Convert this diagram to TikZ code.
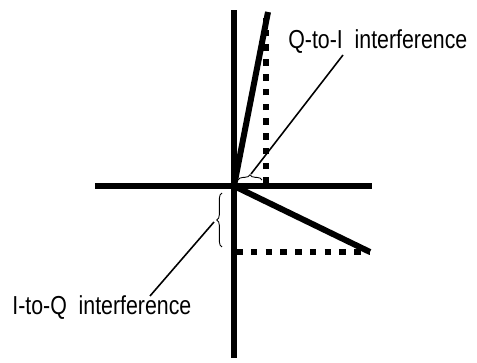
\documentclass[tikz,border=0pt]{standalone}
\usepackage{fontspec}
\newfontfamily\labelfont[FakeStretch=0.82]{Liberation Sans}
\usepackage{tikz}
\usetikzlibrary{decorations.pathreplacing}

\begin{document}
\begin{tikzpicture}[x=0.2mm, y=0.2mm,
  axis/.style={line width=3.2pt},
  vec/.style={line width=3.4pt},
  proj/.style={line width=3pt, dash pattern=on 3.8pt off 4.6pt},
  lead/.style={line width=0.9pt},
  brc/.style={line width=0.5pt, decorate, decoration={brace, amplitude=3pt}},
  lbl/.style={font=\labelfont\fontsize{14.8}{17}\selectfont, inner sep=0pt, anchor=west}]
  \useasboundingbox (-234,-177) rectangle (243,186);
  % axes
  \coordinate (O) at (0,0);
  \coordinate (Qtop) at (0,176);
  \coordinate (Qbot) at (0,-172);
  \coordinate (Ileft) at (-139,0);
  \coordinate (Iright) at (138,0);
  \draw[axis] (Qbot)--(Qtop);
  \draw[axis] (Ileft)--(Iright);
  % vectors and their projections
  \coordinate (Vq) at (34,174);
  \coordinate (Vi) at (136,-66);
  \draw[proj] (32,2)--(32,168);
  \draw[proj] (2,-66)--(Vi);
  \draw[vec] (O)--(Vq);
  \draw[vec] (O)--(Vi);
  % braces and labels
  \draw[brc] (4,6)--(28,6);
  \draw[brc] (-12,-61)--(-12,-7);
  \node[lbl] (qi) at (54,144) {Q-to-I~~interference};
  \node[lbl] (iq) at (-222,-122) {I-to-Q~~interference};
  \coordinate (qiend) at (17,12);
  \coordinate (iqend) at (-20,-36);
  \draw[lead] (qiend)--(109,131);
  \draw[lead] (iqend)--(-84,-110);
\end{tikzpicture}
\end{document}
